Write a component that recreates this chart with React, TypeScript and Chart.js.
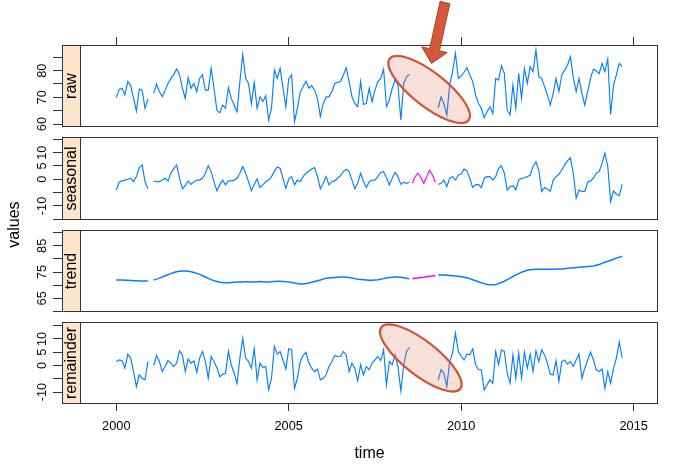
import React, { useEffect, useRef } from 'react';
import { Chart, registerables } from 'chart.js';

Chart.register(...registerables);

// ---------- data (monthly, Jan 2000 .. Sep 2014) ----------
const START_YEAR = 2000;
const IMPUTED_FROM = 103; // month index of Aug 2008 (first imputed month)

const RAW: (number | null)[] = [
  69.9, 73.0, 73.4, 70.9, 75.9, 74.6, 69.6, 64.9, 73.1, 72.7, 65.9, 69.4,
  null, 71.5, 75.0, 72.1, 70.2, 72.7, 75.2, 77.1, 78.6, 80.6, 78.5, 73.4,
  69.6, 77.4, 73.4, 75.2, 72.1, 77.1, 78.4, 72.7, 72.7, 80.9, 73.4, 65.2,
  64.2, 67.1, 65.9, 73.6, 69.6, 67.1, 64.6, 75.9, 86.1, 77.1, 75.2, 67.7,
  75.6, 65.9, 70.2, 68.4, 70.6, 61.5, 65.9, 80.2, 77.1, 80.9, 73.4, 66.5,
  77.0, 78.4, 60.9, 65.9, 72.1, 74.0, 76.1, 73.4, 74.4, 72.7, 69.6, 62.8,
  67.7, 70.2, 70.2, 72.1, 75.2, 75.6, 75.9, 78.4, 81.1, 75.9, 70.2, 67.7,
  66.5, 75.9, 67.4, 67.7, 73.4, 68.4, 72.7, 75.9, 77.1, 80.6, 66.5, 69.0,
  73.4, 76.5, 74.6, 61.5, 75.2, 77.7, 78.6, null, null, null, null, null,
  null, null, null, null, 66.1, 70.2, 67.4, 63.4, 74.6, 79.6, 86.5, 77.1,
  78.0, 79.4, 81.1, 78.4, 75.9, 70.9, 67.7, 65.9, 62.4, 64.6, 66.5, 64.0,
  77.1, 76.5, 81.9, 79.0, 65.2, 63.4, 74.6, 65.9, 79.0, 69.6, 80.9, 75.2,
  81.5, 79.6, 87.7, 77.7, 77.1, 74.0, 70.9, 67.1, 71.5, 77.1, 72.1, 78.4,
  80.2, 82.1, 85.2, 77.5, 72.1, 77.1, 71.5, 67.1, 72.1, 77.1, 80.6, 79.9,
  78.9, 82.7, 79.6, 84.4, 63.6, 74.6, 78.4, 82.7, 81.5,
];

const SEASONAL: (number | null)[] = [
  -4.0, -1.1, -0.6, -0.3, 0.0, 0.4, -0.9, 1.0, 4.4, 5.4, -0.9, -3.6,
  null, -0.6, -0.9, -0.9, -0.3, 0.4, -0.6, 2.3, 4.1, 5.4, 0.4, -3.6,
  -2.4, -0.6, -1.9, -0.9, -0.3, -0.3, 0.4, 2.3, 5.1, 2.9, -0.9, -4.3,
  -2.1, -0.3, -2.1, -0.6, -0.6, -0.3, 0.4, 2.3, 4.8, 2.3, -0.9, -4.3,
  -1.9, 0.1, -3.1, -2.1, -0.9, -0.3, 1.0, 3.1, 4.6, 4.1, 0.4, -3.4,
  0.1, 1.0, -2.1, -0.3, -0.9, 1.0, 2.3, 3.1, 3.9, 4.4, 1.0, -3.6,
  -1.5, 1.0, -2.1, -0.9, -0.6, 0.4, 1.4, 2.9, 3.8, 2.9, -0.3, -3.6,
  -1.5, 2.3, -0.9, -3.1, -0.9, -0.3, -0.3, 1.0, 2.6, 2.9, 0.6, -2.1,
  0.4, 2.6, 1.0, -1.9, -1.1, -1.5, -1.1, null, null, null, null, null,
  null, null, null, null, -1.9, -1.5, -0.3, -2.8, 0.4, 1.0, -0.3, 1.6,
  2.0, 3.9, 3.1, 0.4, -3.1, -2.1, -1.9, -3.1, 0.4, 1.0, 1.0, -0.3,
  1.0, 4.1, 5.1, 2.3, -4.0, -2.8, -2.4, -4.0, -0.3, 0.4, 0.6, 1.0,
  1.6, 4.8, 6.6, 3.5, -4.6, -3.1, -3.6, -4.6, -0.3, 1.0, 1.9, 3.5,
  5.4, 6.9, 8.1, 2.3, -7.1, -4.0, -4.6, -4.6, -1.1, -0.6, 0.4, 2.3,
  2.9, 6.0, 9.8, 4.8, -8.4, -4.4, -5.6, -6.1, -1.9,
];
const SEASONAL_IMPUTED = [-1.5, 1.0, 2.3, 0.6, -1.5, 1.0, 3.4, 1.6, -1.1];

const TREND: (number | null)[] = [
  72.0, 72.0, 72.0, 71.9, 71.9, 71.8, 71.7, 71.7, 71.6, 71.6, 71.6, 71.6,
  null, 72.0, 72.3, 72.7, 73.1, 73.6, 74.0, 74.4, 74.8, 75.1, 75.3, 75.4,
  75.4, 75.3, 75.1, 74.8, 74.5, 74.1, 73.6, 73.1, 72.6, 72.1, 71.7, 71.4,
  71.1, 71.0, 70.9, 70.9, 71.0, 71.1, 71.2, 71.2, 71.2, 71.3, 71.3, 71.2,
  71.2, 71.3, 71.4, 71.3, 71.2, 71.2, 71.3, 71.4, 71.5, 71.5, 71.4, 71.3,
  71.2, 71.0, 70.8, 70.6, 70.5, 70.5, 70.6, 70.8, 71.1, 71.4, 71.7, 72.0,
  72.3, 72.6, 72.7, 72.8, 72.9, 73.0, 73.1, 73.1, 73.0, 72.9, 72.7, 72.5,
  72.3, 72.2, 72.1, 72.0, 71.9, 71.9, 72.0, 72.1, 72.3, 72.5, 72.7, 72.9,
  73.0, 73.1, 73.1, 73.0, 72.8, 72.6, 72.4, null, null, null, null, null,
  null, null, null, null, 73.9, 73.9, 73.9, 73.8, 73.7, 73.6, 73.5, 73.4,
  73.2, 73.0, 72.8, 72.5, 72.1, 71.7, 71.3, 70.9, 70.6, 70.3, 70.2, 70.2,
  70.3, 70.6, 71.0, 71.5, 72.1, 72.7, 73.3, 73.9, 74.4, 74.9, 75.3, 75.7,
  75.9, 76.0, 76.1, 76.1, 76.1, 76.1, 76.1, 76.1, 76.1, 76.2, 76.2, 76.2,
  76.3, 76.4, 76.5, 76.6, 76.7, 76.8, 76.9, 77.0, 77.1, 77.2, 77.3, 77.6,
  77.9, 78.3, 78.7, 79.1, 79.5, 79.9, 80.3, 80.6, 81.0,
];
const TREND_IMPUTED = [72.5, 72.6, 72.7, 72.9, 73.0, 73.2, 73.4, 73.5, 73.7];

const REMAINDER: (number | null)[] = [
  1.5, 2.1, 1.8, -1.0, 4.3, 2.8, -2.3, -7.9, -3.5, -4.8, -5.4, 1.5,
  null, 0.0, 3.8, 1.5, -2.3, -0.4, 1.8, 0.9, -0.4, 0.9, 5.5, 4.0,
  -2.3, 2.5, 0.9, 1.8, -2.5, 2.8, 5.3, 1.5, -4.8, 3.4, 1.5, -0.8,
  -4.2, -3.3, -2.9, 5.3, 0.3, -2.9, -6.7, 2.8, 10.3, 2.8, 1.5, -1.0,
  6.3, -5.4, 0.9, -0.8, -0.4, -9.2, -4.8, 7.2, 4.3, 5.3, 2.1, -1.3,
  6.3, 5.9, -8.6, -4.8, 1.5, 3.8, 5.0, 0.9, -1.0, -2.3, -1.3, -5.4,
  -4.8, -3.5, -0.4, 1.5, 3.8, 3.4, 3.4, 5.3, 4.0, -2.3, 0.9, -1.0,
  -5.8, 0.3, -3.5, -0.4, -1.6, 0.9, 2.1, 3.4, 1.8, 5.9, -7.3, 1.5,
  0.3, 4.0, -0.4, -9.6, 0.3, 5.3, 6.8, null, null, null, null, null,
  null, null, null, null, -5.4, -1.6, -2.9, -7.9, 1.5, 4.7, 12.2, 5.3,
  3.5, 2.1, 4.3, 4.0, 6.3, 0.3, -1.6, -1.6, -9.2, -7.3, -5.4, -6.7,
  5.3, 0.3, 5.9, 5.3, -2.9, -6.7, 4.0, -4.8, 4.7, -4.8, 5.0, -1.0,
  4.3, -2.3, 5.5, 1.5, 5.9, 4.0, 0.9, -3.3, -3.5, 1.8, -6.0, 1.5,
  2.1, 0.5, 1.5, -0.4, 2.1, 4.3, -4.8, -1.0, 2.1, 5.0, 2.1, -1.6,
  -2.3, -1.3, -8.6, -2.3, -6.7, -1.0, 2.8, 8.8, 3.0,
];

// ---------- axes ----------
const X_TICKS = [2000, 2005, 2010, 2015];
const X_RANGE = [1998.977, 2015.706];

const RAW_TICKS = [60, 65, 70, 75, 80, 85];
const RAW_LABELS = [60, 70, 80];
const RAW_RANGE = [58.9, 89.6];

const SEASONAL_TICKS = [-15, -10, -5, 0, 5, 10, 15];
const SEASONAL_LABELS = [-10, 0, 5, 10];
const SEASONAL_RANGE = [-15.3, 15.9];

const TREND_TICKS = [60, 65, 70, 75, 80, 85, 90];
const TREND_LABELS = [65, 75, 85];
const TREND_RANGE = [59.8, 91.0];

const REMAINDER_TICKS = [-10, -5, 0, 5, 10, 15];
const REMAINDER_LABELS = [-10, 0, 5, 10];
const REMAINDER_RANGE = [-14.5, 16.4];

const PANEL_NAMES = ['raw', 'seasonal', 'trend', 'remainder'];

// ---------- annotations ----------
const HIGHLIGHTS = [
  { scale: 'raw', x: 2009.07, y: 72.95 },
  { scale: 'remainder', x: 2008.83, y: 2.83 },
];
const ARROW = { scale: 'raw', from: [2009.53, 105.5], to: [2009.14, 82.7] };

// ---------- styles ----------
const FAMILY = '"Liberation Sans", Arial, Helvetica, sans-serif';
const BLUE = '#0080FF';
const MAGENTA = '#FF00FF';
const FRAME = '#333333';
const STRIP_BG = '#FFE5CC';
const STRIP_W = 19;
const Y_AXIS_W = 81;
const Y_TICK_LEN = 28;
const LABEL_CENTER_FROM_AXIS = 39;
const TICK_FONT = 12.8;

function textWidth(t: string, size: number) {
  const c = document.createElement('canvas').getContext('2d')!;
  c.font = `normal normal ${size}px ${FAMILY}`;
  return c.measureText(t).width;
}

function series(values: (number | null)[], offset = 0) {
  return values.map((v, i) => ({ x: START_YEAR + (i + offset) / 12, y: v }));
}

function yAxis(ticks: number[], labels: number[], range: number[], weight: number, stackWeight: number) {
  const widest = Math.max(...labels.map((l) => textWidth(String(l), TICK_FONT)));
  const padding = Math.max(0, LABEL_CENTER_FROM_AXIS - Y_TICK_LEN - widest / 2);
  return {
    type: 'linear',
    position: 'left',
    stack: 'panels',
    stackWeight,
    weight,
    min: range[0],
    max: range[1],
    afterBuildTicks: (s: any) => {
      s.ticks = ticks.map((v) => ({ value: v }));
    },
    afterFit: (s: any) => {
      s.width = Y_AXIS_W;
    },
    grid: { drawOnChartArea: false, drawTicks: true, tickLength: Y_TICK_LEN, color: FRAME, lineWidth: 1 },
    border: { display: false },
    ticks: {
      autoSkip: false,
      minRotation: 90,
      maxRotation: 90,
      crossAlign: 'center',
      padding,
      color: '#000',
      font: { family: FAMILY, size: TICK_FONT },
      callback: (v: number) => (labels.includes(v) ? String(v) : ''),
    },
  };
}

function spacer(weight: number, stackWeight: number) {
  return { type: 'linear', position: 'left', stack: 'panels', stackWeight, weight, display: false, min: 0, max: 1 };
}

const decorPlugin = {
  id: 'decor',
  afterDraw(chart: any) {
    const { ctx, chartArea } = chart;
    const sx = chart.scales.x;
    ctx.save();

    // panels with strips
    PANEL_NAMES.forEach((name) => {
      const s = chart.scales[name];
      const L = chartArea.left - STRIP_W;
      const R = chartArea.right;
      const T = Math.round(s.top);
      const B = Math.round(s.bottom);
      ctx.fillStyle = STRIP_BG;
      ctx.fillRect(L, T, STRIP_W, B - T);
      ctx.strokeStyle = FRAME;
      ctx.lineWidth = 1;
      ctx.strokeRect(L + 0.5, T + 0.5, R - L - 1, B - T - 1);
      ctx.beginPath();
      ctx.moveTo(chartArea.left - 0.5, T);
      ctx.lineTo(chartArea.left - 0.5, B);
      ctx.stroke();

      ctx.save();
      ctx.translate(L + STRIP_W / 2 + 0.5, (T + B) / 2);
      ctx.rotate(-Math.PI / 2);
      ctx.fillStyle = '#000';
      ctx.font = `16px ${FAMILY}`;
      ctx.textAlign = 'center';
      ctx.textBaseline = 'middle';
      ctx.fillText(name, 0, 0);
      ctx.restore();
    });

    // "values" axis title
    ctx.save();
    ctx.translate(15, (chartArea.top + chartArea.bottom) / 2);
    ctx.rotate(-Math.PI / 2);
    ctx.fillStyle = '#000';
    ctx.font = `16px ${FAMILY}`;
    ctx.textAlign = 'center';
    ctx.textBaseline = 'middle';
    ctx.fillText('values', 0, 0);
    ctx.restore();

    // highlight ellipses
    HIGHLIGHTS.forEach((h) => {
      const cx = sx.getPixelForValue(h.x);
      const cy = chart.scales[h.scale].getPixelForValue(h.y);
      ctx.beginPath();
      ctx.ellipse(cx, cy, 50, 17, (38 * Math.PI) / 180, 0, Math.PI * 2);
      ctx.fillStyle = 'rgba(215, 90, 60, 0.19)';
      ctx.fill();
      ctx.lineWidth = 2.2;
      ctx.strokeStyle = '#CF5537';
      ctx.stroke();
    });

    // arrow
    const ys = chart.scales[ARROW.scale];
    const x0 = sx.getPixelForValue(ARROW.from[0]);
    const y0 = ys.getPixelForValue(ARROW.from[1]);
    const x1 = sx.getPixelForValue(ARROW.to[0]);
    const y1 = ys.getPixelForValue(ARROW.to[1]);
    const len = Math.hypot(x1 - x0, y1 - y0);
    const ux = (x1 - x0) / len;
    const uy = (y1 - y0) / len;
    const nx = -uy;
    const ny = ux;
    const shaftHalf = 5;
    const headHalf = 13;
    const headLen = 14;
    const bx = x1 - ux * headLen;
    const by = y1 - uy * headLen;
    ctx.beginPath();
    ctx.moveTo(x0 + nx * shaftHalf, y0 + ny * shaftHalf);
    ctx.lineTo(bx + nx * shaftHalf, by + ny * shaftHalf);
    ctx.lineTo(bx + nx * headHalf, by + ny * headHalf);
    ctx.lineTo(x1, y1);
    ctx.lineTo(bx - nx * headHalf, by - ny * headHalf);
    ctx.lineTo(bx - nx * shaftHalf, by - ny * shaftHalf);
    ctx.lineTo(x0 - nx * shaftHalf, y0 - ny * shaftHalf);
    ctx.closePath();
    ctx.fillStyle = '#D4583B';
    ctx.fill();
    ctx.lineWidth = 1;
    ctx.strokeStyle = '#A8432B';
    ctx.stroke();

    ctx.restore();
  },
};

export default function App() {
  const ref = useRef<HTMLCanvasElement>(null);

  useEffect(() => {
    const lineDs = (data: any[], yAxisID: string, color: string, width: number) => ({
      data,
      yAxisID,
      xAxisID: 'x',
      borderColor: color,
      backgroundColor: color,
      borderWidth: width,
      pointRadius: 0,
      tension: 0,
      spanGaps: false,
      fill: false,
    });

    const config: any = {
      type: 'line',
      data: {
        datasets: [
          lineDs(series(RAW), 'raw', BLUE, 1.15),
          lineDs(series(SEASONAL), 'seasonal', BLUE, 1.15),
          lineDs(series(SEASONAL_IMPUTED, IMPUTED_FROM), 'seasonal', MAGENTA, 1.15),
          lineDs(series(TREND), 'trend', BLUE, 1.5),
          lineDs(series(TREND_IMPUTED, IMPUTED_FROM), 'trend', MAGENTA, 1.5),
          lineDs(series(REMAINDER), 'remainder', BLUE, 1.15),
        ],
      },
      options: {
        responsive: false,
        animation: false,
        events: [],
        layout: { padding: { top: 37, right: 15, bottom: 0, left: 0 } },
        plugins: { legend: { display: false }, tooltip: { enabled: false } },
        scales: {
          x: {
            type: 'linear',
            position: 'bottom',
            min: X_RANGE[0],
            max: X_RANGE[1],
            afterBuildTicks: (s: any) => {
              s.ticks = X_TICKS.map((v) => ({ value: v }));
            },
            afterFit: (s: any) => {
              s.height = 71;
            },
            grid: { drawOnChartArea: false, drawTicks: true, tickLength: 7, color: FRAME },
            border: { display: false },
            ticks: {
              autoSkip: false,
              maxRotation: 0,
              padding: 8,
              color: '#000',
              font: { family: FAMILY, size: TICK_FONT },
              callback: (v: number) => String(v),
            },
            title: {
              display: true,
              text: 'time',
              color: '#000',
              font: { family: FAMILY, size: 16 },
              padding: { top: 0, bottom: 11.4 },
            },
          },
          x2: {
            type: 'linear',
            position: 'top',
            min: X_RANGE[0],
            max: X_RANGE[1],
            afterBuildTicks: (s: any) => {
              s.ticks = X_TICKS.map((v) => ({ value: v }));
            },
            afterFit: (s: any) => {
              s.height = 8;
            },
            grid: { drawOnChartArea: false, drawTicks: true, tickLength: 8, color: FRAME },
            border: { display: false },
            ticks: { display: false },
          },
          raw: yAxis(RAW_TICKS, RAW_LABELS, RAW_RANGE, 7, 82),
          gap1: spacer(6, 10),
          seasonal: yAxis(SEASONAL_TICKS, SEASONAL_LABELS, SEASONAL_RANGE, 5, 83),
          gap2: spacer(4, 10),
          trend: yAxis(TREND_TICKS, TREND_LABELS, TREND_RANGE, 3, 82),
          gap3: spacer(2, 10),
          remainder: yAxis(REMAINDER_TICKS, REMAINDER_LABELS, REMAINDER_RANGE, 1, 82),
        },
      },
      plugins: [decorPlugin],
    };

    const chart = new Chart(ref.current!, config);
    return () => chart.destroy();
  }, []);

  return (
    <div style={{ position: 'absolute', left: 0, top: 0, width: 673, height: 475, background: '#fff' }}>
      <canvas ref={ref} width={673} height={475} style={{ display: 'block' }} />
    </div>
  );
}
